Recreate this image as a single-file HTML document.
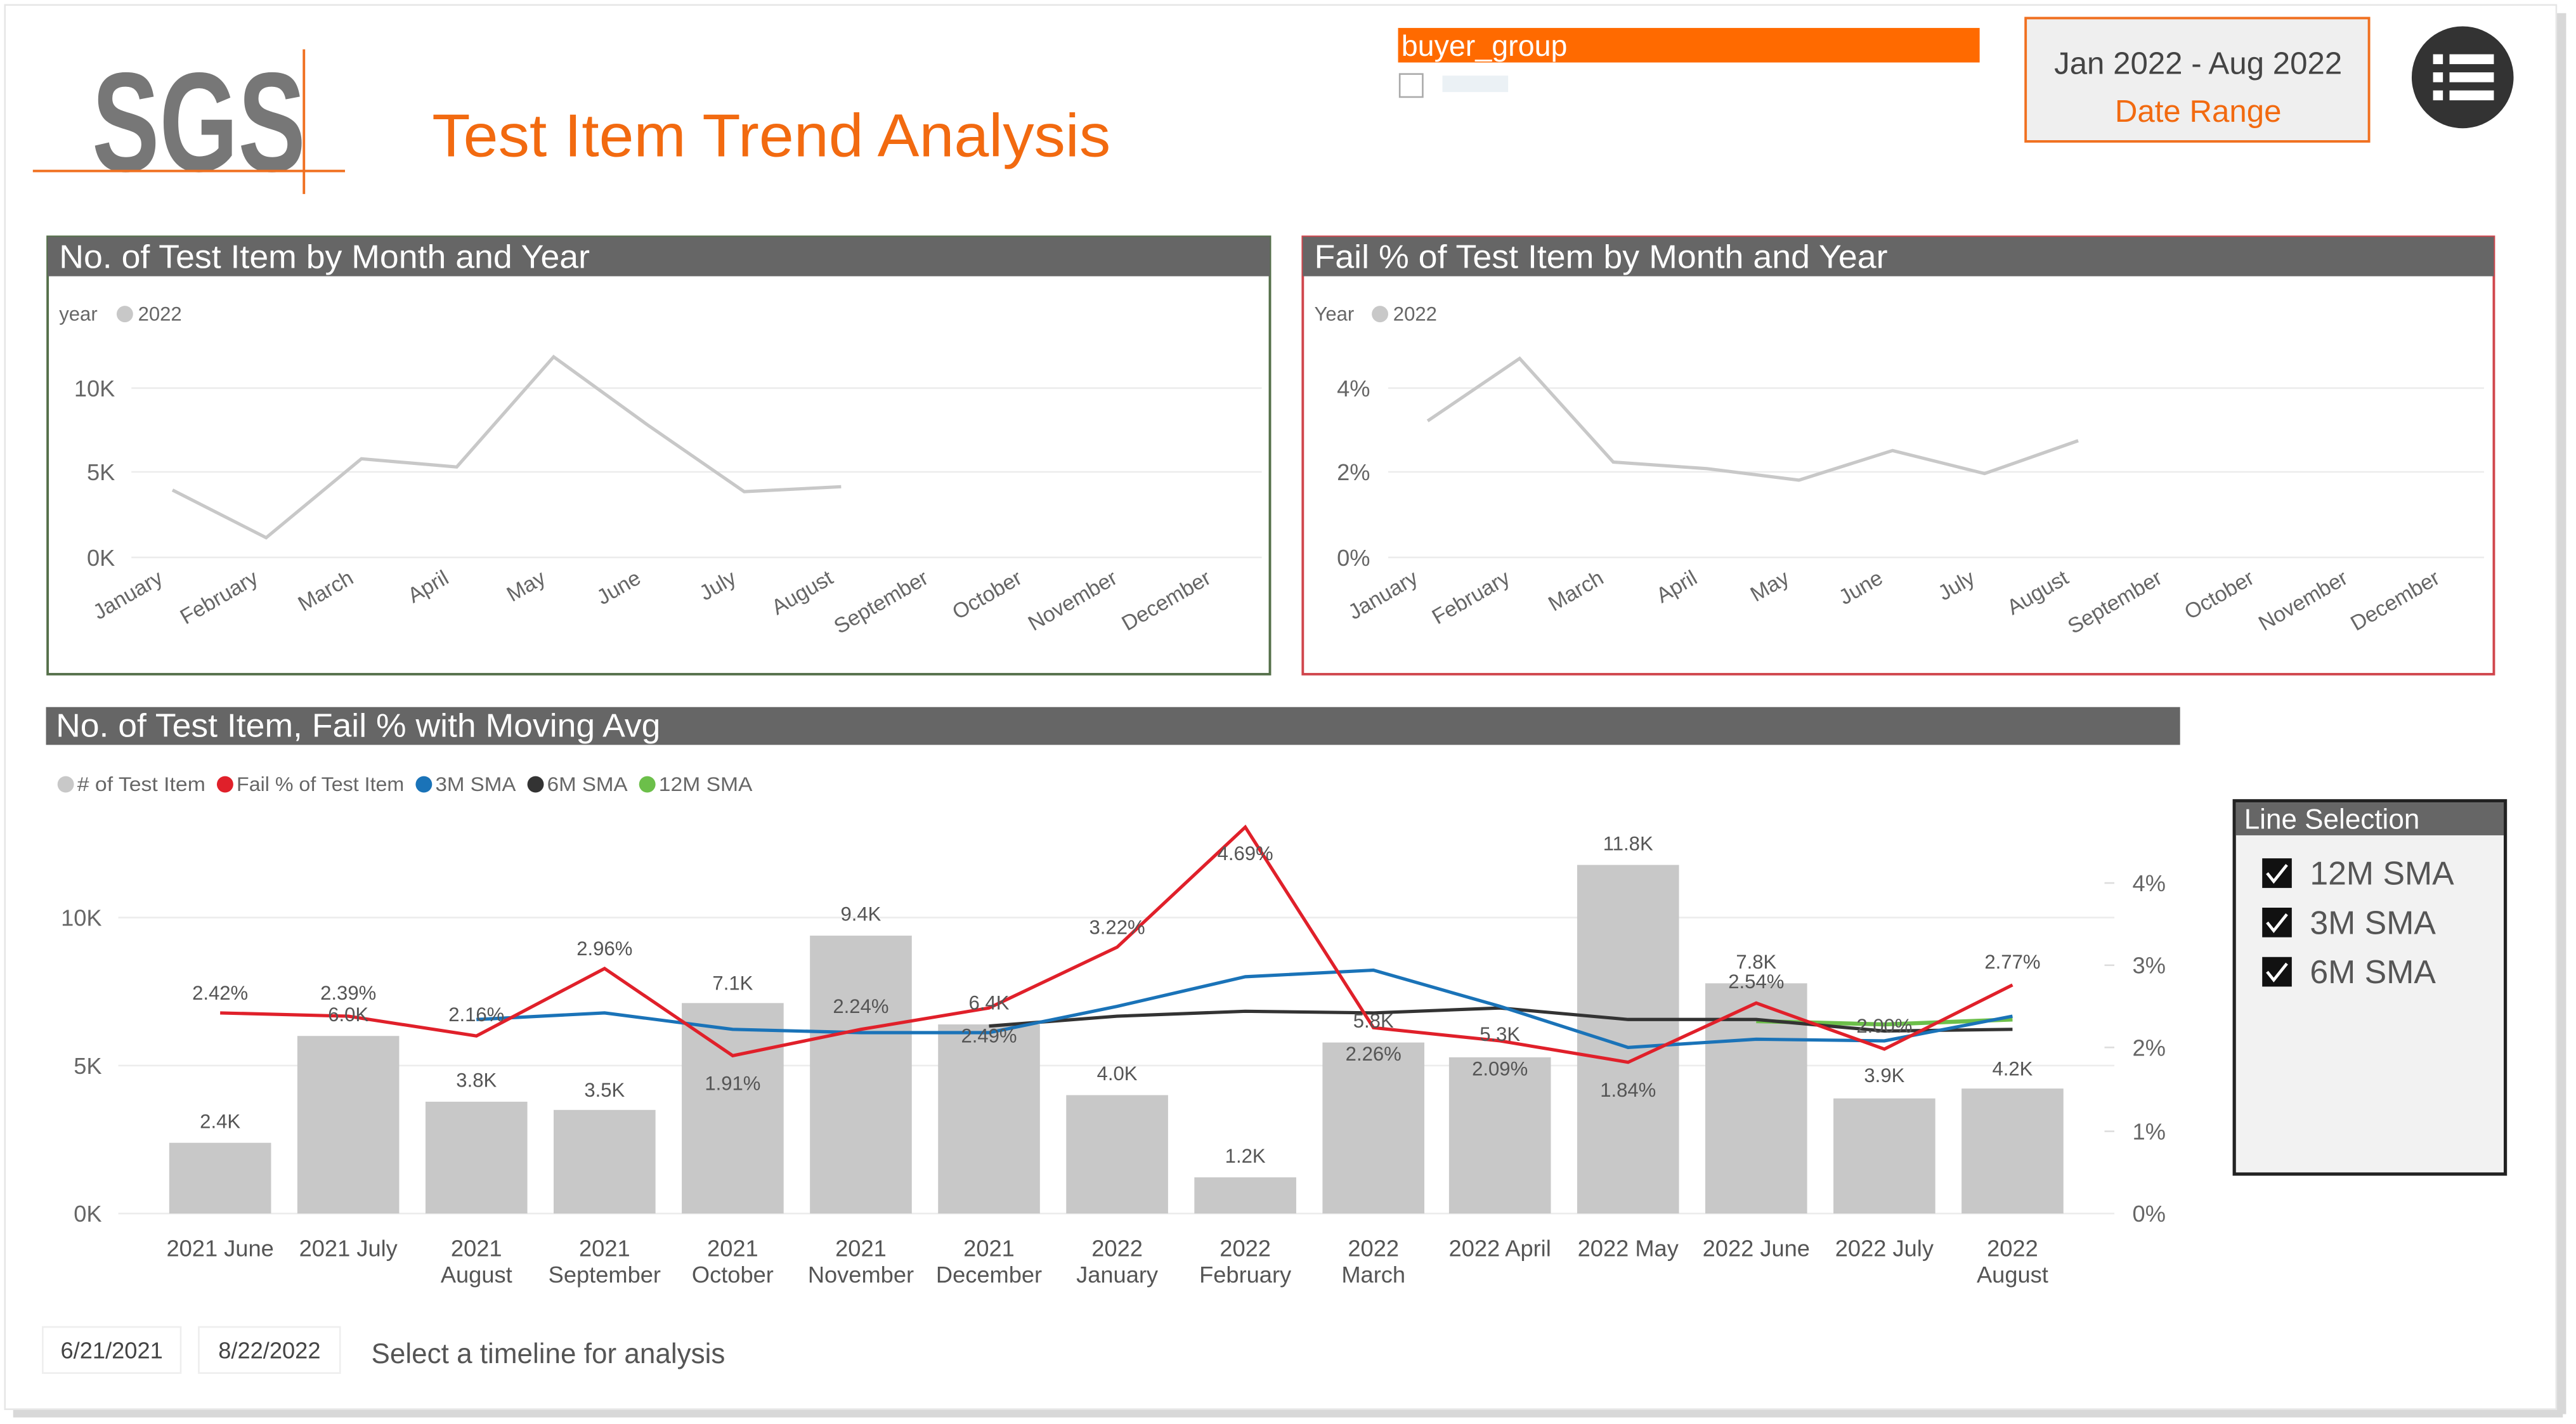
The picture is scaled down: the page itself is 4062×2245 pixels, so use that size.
<!DOCTYPE html>
<html><head><meta charset="utf-8"><style>
html,body{margin:0;padding:0;background:#fff;width:4062px;height:2245px;overflow:hidden}
svg{display:block}
text{font-family:"Liberation Sans",sans-serif}
</style></head><body>
<svg width="4062" height="2245" viewBox="0 0 1568 866" preserveAspectRatio="none" xmlns="http://www.w3.org/2000/svg">
<rect x="0" y="0" width="1568" height="866" fill="#fff"/>
<rect x="1556" y="8" width="6" height="852" fill="#d8d8d8"/>
<rect x="8" y="857" width="1552" height="5" fill="#d8d8d8"/>
<rect x="3" y="3" width="1553" height="854" fill="#fff" stroke="#e6e6e6" stroke-width="1"/>
<!-- logo -->
<text x="56" y="104" font-size="86" font-weight="bold" fill="#777" textLength="130" lengthAdjust="spacingAndGlyphs">SGS</text>
<line x1="20" y1="104" x2="210" y2="104" stroke="#f07020" stroke-width="1.5"/>
<line x1="185" y1="30" x2="185" y2="118" stroke="#f07020" stroke-width="1.5"/>
<text x="263" y="95" font-size="37" fill="#f26a10" textLength="413" lengthAdjust="spacingAndGlyphs">Test Item Trend Analysis</text>
<!-- slicer -->
<rect x="851" y="17" width="354" height="21" fill="#ff6a00"/>
<text x="853" y="34" font-size="18" fill="#fff">buyer_group</text>
<rect x="852" y="45" width="14" height="14" fill="#fff" stroke="#aaa"/>
<rect x="878" y="46" width="40" height="10" fill="#dde8ee" opacity="0.6"/>
<rect x="1233" y="11" width="209" height="75" fill="#efefef" stroke="#f07020" stroke-width="1.5"/>
<text x="1338" y="45" font-size="19" fill="#444" text-anchor="middle">Jan 2022 - Aug 2022</text>
<text x="1338" y="74" font-size="19" fill="#f26a10" text-anchor="middle">Date Range</text>
<circle cx="1499" cy="47" r="31" fill="#333"/>
<g fill="#fff"><rect x="1481" y="33" width="6" height="6"/><rect x="1491" y="33" width="27" height="6"/><rect x="1481" y="44" width="6" height="6"/><rect x="1491" y="44" width="27" height="6"/><rect x="1481" y="55" width="6" height="6"/><rect x="1491" y="55" width="27" height="6"/></g>
<!-- panel 1 -->
<rect x="29" y="144" width="744" height="266" fill="#fff" stroke="#55704a" stroke-width="1.5"/>
<rect x="29" y="144" width="744" height="24" fill="#666"/>
<text x="36" y="163" font-size="20" fill="#fff" textLength="323" lengthAdjust="spacingAndGlyphs">No. of Test Item by Month and Year</text>
<text x="36" y="195" font-size="12" fill="#666">year</text><circle cx="76" cy="191" r="5" fill="#c8c8c8"/><text x="84" y="195" font-size="12" fill="#666">2022</text>
<g stroke="#ececec"><line x1="80" y1="236" x2="768" y2="236"/><line x1="80" y1="287" x2="768" y2="287"/><line x1="80" y1="339" x2="768" y2="339"/></g>
<g font-size="14" fill="#666" text-anchor="end"><text x="70" y="241">10K</text><text x="70" y="292">5K</text><text x="70" y="344">0K</text></g>
<polyline fill="none" stroke="#c8c8c8" stroke-width="2" points="105,298 162,327 220,279 278,284 337,217 395,259 453,299 512,296"/>
<g font-size="13" fill="#666" text-anchor="end">
<text transform="translate(100,354) rotate(-30)">January</text><text transform="translate(158,354) rotate(-30)">February</text><text transform="translate(216,354) rotate(-30)">March</text><text transform="translate(274,354) rotate(-30)">April</text><text transform="translate(333,354) rotate(-30)">May</text><text transform="translate(391,354) rotate(-30)">June</text><text transform="translate(449,354) rotate(-30)">July</text><text transform="translate(508,354) rotate(-30)">August</text><text transform="translate(566,354) rotate(-30)">September</text><text transform="translate(623,354) rotate(-30)">October</text><text transform="translate(681,354) rotate(-30)">November</text><text transform="translate(738,354) rotate(-30)">December</text></g>
<!-- panel 2 -->
<rect x="793" y="144" width="725" height="266" fill="#fff" stroke="#d0454c" stroke-width="1.5"/>
<rect x="793" y="144" width="725" height="24" fill="#666"/>
<text x="800" y="163" font-size="20" fill="#fff" textLength="349" lengthAdjust="spacingAndGlyphs">Fail % of Test Item by Month and Year</text>
<text x="800" y="195" font-size="12" fill="#666">Year</text><circle cx="840" cy="191" r="5" fill="#c8c8c8"/><text x="848" y="195" font-size="12" fill="#666">2022</text>
<g stroke="#ececec"><line x1="845" y1="236" x2="1512" y2="236"/><line x1="845" y1="287" x2="1512" y2="287"/><line x1="845" y1="339" x2="1512" y2="339"/></g>
<g font-size="14" fill="#666" text-anchor="end"><text x="834" y="241">4%</text><text x="834" y="292">2%</text><text x="834" y="344">0%</text></g>
<polyline fill="none" stroke="#c8c8c8" stroke-width="2" points="869,256 925,218 982,281 1039,285 1095,292 1152,274 1208,288 1265,268"/>
<g font-size="13" fill="#666" text-anchor="end">
<text transform="translate(864,354) rotate(-30)">January</text><text transform="translate(920,354) rotate(-30)">February</text><text transform="translate(977,354) rotate(-30)">March</text><text transform="translate(1034,354) rotate(-30)">April</text><text transform="translate(1090,354) rotate(-30)">May</text><text transform="translate(1147,354) rotate(-30)">June</text><text transform="translate(1203,354) rotate(-30)">July</text><text transform="translate(1260,354) rotate(-30)">August</text><text transform="translate(1317,354) rotate(-30)">September</text><text transform="translate(1373,354) rotate(-30)">October</text><text transform="translate(1430,354) rotate(-30)">November</text><text transform="translate(1486,354) rotate(-30)">December</text></g>
<!-- bottom chart -->
<rect x="28" y="430" width="1299" height="23" fill="#666"/>
<text x="34" y="448" font-size="20" fill="#fff" textLength="368" lengthAdjust="spacingAndGlyphs">No. of Test Item, Fail % with Moving Avg</text>
<g font-size="12" fill="#666">
<circle cx="40" cy="477" r="5" fill="#c8c8c8"/><text x="47" y="481" textLength="78" lengthAdjust="spacingAndGlyphs"># of Test Item</text>
<circle cx="137" cy="477" r="5" fill="#e0202a"/><text x="144" y="481" textLength="102" lengthAdjust="spacingAndGlyphs">Fail % of Test Item</text>
<circle cx="258" cy="477" r="5" fill="#1a73b8"/><text x="265" y="481" textLength="49" lengthAdjust="spacingAndGlyphs">3M SMA</text>
<circle cx="326" cy="477" r="5" fill="#333"/><text x="333" y="481" textLength="49" lengthAdjust="spacingAndGlyphs">6M SMA</text>
<circle cx="394" cy="477" r="5" fill="#6cbf4a"/><text x="401" y="481" textLength="57" lengthAdjust="spacingAndGlyphs">12M SMA</text></g>
<g stroke="#ececec"><line x1="72" y1="558" x2="1287" y2="558"/><line x1="72" y1="648" x2="1287" y2="648"/><line x1="72" y1="738" x2="1287" y2="738"/></g>
<g stroke="#ddd"><line x1="1281" y1="537" x2="1287" y2="537"/><line x1="1281" y1="587" x2="1287" y2="587"/><line x1="1281" y1="637" x2="1287" y2="637"/><line x1="1281" y1="688" x2="1287" y2="688"/></g>
<g font-size="14" fill="#666" text-anchor="end"><text x="62" y="563">10K</text><text x="62" y="653">5K</text><text x="62" y="743">0K</text></g>
<g font-size="14" fill="#666"><text x="1298" y="542">4%</text><text x="1298" y="592">3%</text><text x="1298" y="642">2%</text><text x="1298" y="693">1%</text><text x="1298" y="743">0%</text></g>
<g fill="#c8c8c8">
<rect x="103" y="695" width="62" height="43"/><rect x="181" y="630" width="62" height="108"/><rect x="259" y="670" width="62" height="68"/><rect x="337" y="675" width="62" height="63"/><rect x="415" y="610" width="62" height="128"/><rect x="493" y="569" width="62" height="169"/><rect x="571" y="623" width="62" height="115"/><rect x="649" y="666" width="62" height="72"/><rect x="727" y="716" width="62" height="22"/><rect x="805" y="634" width="62" height="104"/><rect x="882" y="643" width="62" height="95"/><rect x="960" y="526" width="62" height="212"/><rect x="1038" y="598" width="62" height="140"/><rect x="1116" y="668" width="62" height="70"/><rect x="1194" y="662" width="62" height="76"/></g>
<polyline fill="none" stroke="#6cbf4a" stroke-width="2.5" points="1069,621 1147,623 1225,620"/>
<polyline fill="none" stroke="#333" stroke-width="2" points="602,624 680,618 758,615 836,616 913,613 991,620 1069,620 1147,627 1225,626"/>
<polyline fill="none" stroke="#1a73b8" stroke-width="2" points="290,620 368,616 446,626 524,628 602,628 680,612 758,594 836,590 913,612 991,637 1069,632 1147,633 1225,618"/>
<polyline fill="none" stroke="#e0202a" stroke-width="2" points="134,616 212,618 290,630 368,589 446,642 524,626 602,613 680,576 758,503 836,625 913,633 991,646 1069,610 1147,638 1225,599"/>
<g font-size="12" fill="#555" text-anchor="middle">
<text x="134" y="686">2.4K</text><text x="212" y="621">6.0K</text><text x="290" y="661">3.8K</text><text x="368" y="667">3.5K</text><text x="446" y="602">7.1K</text><text x="524" y="560">9.4K</text><text x="602" y="614">6.4K</text><text x="680" y="657">4.0K</text><text x="758" y="707">1.2K</text><text x="836" y="625">5.8K</text><text x="913" y="633">5.3K</text><text x="991" y="517">11.8K</text><text x="1069" y="589">7.8K</text><text x="1147" y="658">3.9K</text><text x="1225" y="654">4.2K</text>
<text x="134" y="608">2.42%</text><text x="212" y="608">2.39%</text><text x="290" y="621">2.16%</text><text x="368" y="581">2.96%</text><text x="446" y="663">1.91%</text><text x="524" y="616">2.24%</text><text x="602" y="634">2.49%</text><text x="680" y="568">3.22%</text><text x="758" y="523">4.69%</text><text x="836" y="645">2.26%</text><text x="913" y="654">2.09%</text><text x="991" y="667">1.84%</text><text x="1069" y="601">2.54%</text><text x="1147" y="628">2.00%</text><text x="1225" y="589">2.77%</text></g>
<g font-size="14" fill="#555" text-anchor="middle">
<text x="134" y="764">2021 June</text><text x="212" y="764">2021 July</text><text x="290" y="764">2021</text><text x="290" y="780">August</text><text x="368" y="764">2021</text><text x="368" y="780">September</text><text x="446" y="764">2021</text><text x="446" y="780">October</text><text x="524" y="764">2021</text><text x="524" y="780">November</text><text x="602" y="764">2021</text><text x="602" y="780">December</text><text x="680" y="764">2022</text><text x="680" y="780">January</text><text x="758" y="764">2022</text><text x="758" y="780">February</text><text x="836" y="764">2022</text><text x="836" y="780">March</text><text x="913" y="764">2022 April</text><text x="991" y="764">2022 May</text><text x="1069" y="764">2022 June</text><text x="1147" y="764">2022 July</text><text x="1225" y="764">2022</text><text x="1225" y="780">August</text></g>
<!-- line selection -->
<rect x="1360" y="487" width="165" height="227" fill="#f2f2f2" stroke="#222" stroke-width="2"/>
<rect x="1361" y="488" width="163" height="20" fill="#666"/>
<text x="1366" y="504" font-size="17" fill="#fff">Line Selection</text>
<g><rect x="1377" y="522" width="18" height="18" fill="#111"/><path d="M1380 531 l4 5 l8 -10" stroke="#fff" stroke-width="1.8" fill="none"/>
<rect x="1377" y="552" width="18" height="18" fill="#111"/><path d="M1380 561 l4 5 l8 -10" stroke="#fff" stroke-width="1.8" fill="none"/>
<rect x="1377" y="582" width="18" height="18" fill="#111"/><path d="M1380 591 l4 5 l8 -10" stroke="#fff" stroke-width="1.8" fill="none"/></g>
<g font-size="20" fill="#555"><text x="1406" y="538">12M SMA</text><text x="1406" y="568">3M SMA</text><text x="1406" y="598">6M SMA</text></g>
<!-- bottom -->
<rect x="26" y="807" width="84" height="28" fill="#fff" stroke="#eee"/>
<rect x="121" y="807" width="86" height="28" fill="#fff" stroke="#eee"/>
<text x="68" y="826" font-size="14" fill="#444" text-anchor="middle">6/21/2021</text>
<text x="164" y="826" font-size="14" fill="#444" text-anchor="middle">8/22/2022</text>
<text x="226" y="829" font-size="17" fill="#555">Select a timeline for analysis</text>
</svg>
</body></html>
